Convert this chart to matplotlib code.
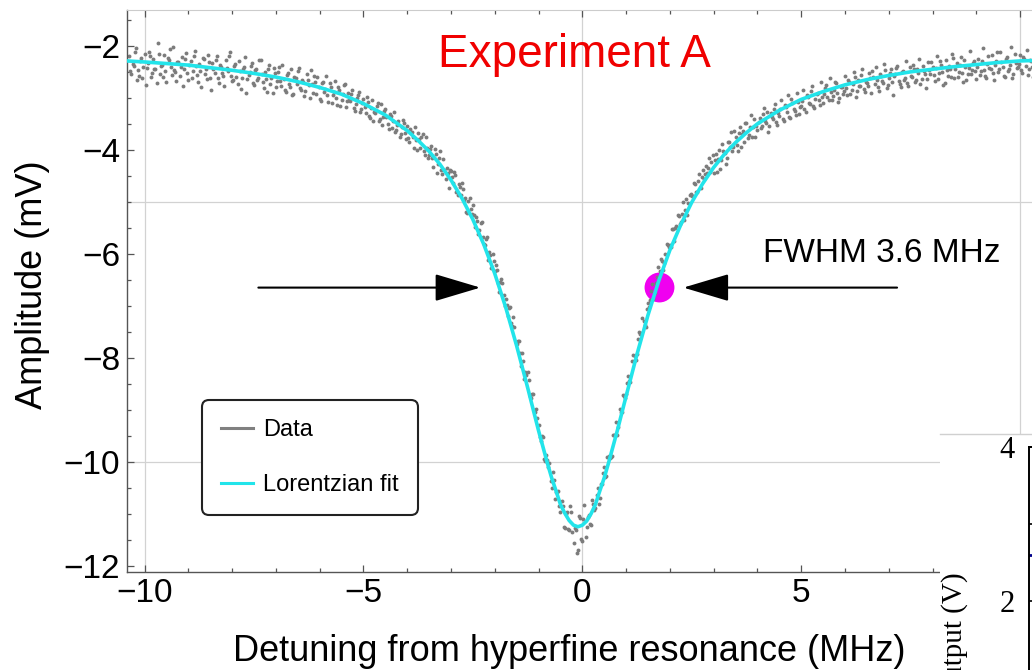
import matplotlib
matplotlib.use("Agg")
import matplotlib.pyplot as plt
from matplotlib.lines import Line2D
from matplotlib.patches import Rectangle
from matplotlib.ticker import MultipleLocator
import numpy as np

plt.rcParams['font.family'] = ['Liberation Sans', 'DejaVu Sans']

# scan 1 sits on the 0.05 grid, scan 2 halfway between
data_step = 0.05
left_start = -10.35
left_mv = [
    -2.20, -2.55, -2.38, -2.05, -2.47, -2.30, -2.62, -2.16, -2.42, -2.11,
    -2.60, -2.25, -2.45, -1.95, -2.54, -2.36, -2.18, -2.70, -2.27, -2.41,
    -2.03, -2.50, -2.32, -2.58, -2.21, -2.45, -2.14, -2.66, -2.29, -2.49,
    -2.10, -2.57, -2.35, -2.80, -2.26, -2.44, -2.18, -2.62, -2.33, -2.53,
    -2.20, -2.71, -2.40, -2.58, -2.27, -2.49, -2.12, -2.68, -2.39, -2.60,
    -2.30, -2.83, -2.45, -2.22, -2.64, -2.51, -2.33, -2.76, -2.44, -2.62,
    -2.28, -2.70, -2.50, -2.88, -2.37, -2.61, -2.42, -2.79, -2.50, -2.68,
    -2.36, -2.85, -2.57, -2.74, -2.44, -2.93, -2.62, -2.48, -2.81, -2.66,
    -2.97, -2.55, -2.76, -2.46, -2.90, -2.70, -2.59, -3.02, -2.71, -2.88,
    -2.58, -3.08, -2.79, -2.95, -2.67, -3.13, -2.84, -3.05, -2.76, -3.18,
    -2.90, -3.07, -2.85, -3.26, -3.00, -2.88, -3.21, -3.02, -3.30, -3.08,
    -3.39, -3.05, -3.27, -3.16, -3.45, -3.12, -3.36, -3.22, -3.50, -3.31,
    -3.58, -3.28, -3.62, -3.45, -3.70, -3.42, -3.68,
]
core_start = -4.0
core_mv = [
    -3.55, -3.84, -3.66, -3.96, -3.81, -3.68, -3.97, -3.69, -4.10, -3.97,
    -4.09, -3.92, -4.33, -4.08, -4.27, -4.03, -4.46, -4.39, -4.34, -4.74,
    -4.40, -4.63, -4.48, -4.87, -4.71, -4.63, -4.96, -5.19, -4.98, -5.14,
    -5.07, -5.48, -5.37, -5.55, -5.39, -5.81, -5.71, -6.11, -6.02, -6.01,
    -6.34, -6.32, -6.73, -6.49, -6.79, -6.86, -7.20, -7.02, -7.38, -7.41,
    -7.74, -7.68, -8.15, -8.07, -8.28, -8.28, -8.74, -8.70, -9.00, -8.99,
    -9.30, -9.61, -9.53, -9.99, -9.96, -10.03, -10.51, -10.36, -10.59, -10.57,
    -10.97, -10.86, -11.27, -10.97, -11.31, -10.97, -11.57, -11.32, -11.70, -11.09,
    -11.52, -10.84, -11.26, -11.02, -11.22, -10.81, -10.88, -10.51, -10.70, -10.42,
    -10.11, -10.28, -9.88, -9.91, -9.49, -9.48, -9.49, -8.98, -9.04, -8.74,
    -8.69, -8.35, -8.47, -7.95, -7.97, -7.92, -7.51, -7.53, -7.29, -7.41,
    -6.94, -6.89, -6.58, -6.75, -6.45, -6.44, -6.10, -6.32, -6.01, -5.83,
    -5.83, -5.53, -5.75, -5.46, -5.28, -5.38, -5.00, -5.15, -5.25, -4.86,
    -4.88, -4.63, -4.82, -4.59, -4.74, -4.38, -4.46, -4.44, -4.15, -4.24,
    -4.44, -4.08, -4.17, -4.36, -3.88, -4.06, -4.15, -3.84, -3.65, -3.95,
    -3.76, -4.02, -3.56, -3.70, -3.85, -3.49, -3.71, -3.33, -3.57, -3.75,
]
right_start = 4.0
right_mv = [
    -3.62, -3.38, -3.55, -3.20, -3.48, -3.66, -3.30, -3.41, -3.12, -3.52,
    -3.35, -3.05, -3.44, -3.18, -2.95, -3.39, -3.10, -3.26, -2.90, -3.32,
    -3.15, -2.85, -3.28, -2.98, -3.12, -2.78, -3.20, -2.93, -3.05, -2.70,
    -3.10, -2.82, -2.98, -2.62, -3.05, -2.85, -2.72, -3.08, -2.80, -2.92,
    -2.58, -2.95, -2.70, -2.85, -2.50, -2.98, -2.66, -2.78, -2.45, -2.88,
    -2.72, -2.52, -2.90, -2.60, -2.40, -2.80, -2.55, -2.68, -2.35, -2.82,
    -2.62, -2.44, -2.95, -2.55, -2.38, -2.74, -2.50, -2.66, -2.30, -2.78,
    -2.58, -2.36, -2.70, -2.45, -2.25, -2.63, -2.48, -2.82, -2.32, -2.55,
    -2.40, -2.68, -2.20, -2.52, -2.36, -2.75, -2.28, -2.58, -2.44, -2.15,
    -2.62, -2.33, -2.50, -2.22, -2.70, -2.40, -2.55, -2.10, -2.46, -2.30,
    -2.64, -2.25, -2.48, -2.05, -2.58, -2.35, -2.42, -2.18, -2.66, -2.30,
    -2.50, -2.12, -2.40, -2.60, -2.22, -2.45, -2.02, -2.55, -2.33, -2.40,
    -2.18, -2.52, -2.26, -2.08, -2.44, -2.30, -2.60, -2.15,
]

left2_start = -10.325
left2_mv = [
    -2.48, -2.35, -2.12, -2.66, -2.58, -2.24, -2.41, -2.75, -2.33, -2.19,
    -2.52, -2.44, -2.71, -2.15, -2.38, -2.60, -2.49, -2.23, -2.07, -2.56,
    -2.46, -2.68, -2.31, -2.40, -2.77, -2.25, -2.52, -2.36, -2.61, -2.19,
    -2.39, -2.70, -2.48, -2.23, -2.55, -2.64, -2.31, -2.85, -2.45, -2.28,
    -2.61, -2.36, -2.52, -2.77, -2.43, -2.20, -2.58, -2.66, -2.34, -2.73,
    -2.49, -2.62, -2.41, -2.90, -2.56, -2.38, -2.71, -2.47, -2.65, -2.27,
    -2.55, -2.82, -2.63, -2.45, -2.74, -2.91, -2.52, -2.68, -2.40, -2.77,
    -2.64, -2.88, -2.52, -2.79, -2.95, -2.60, -2.73, -2.42, -2.84, -2.70,
    -2.86, -2.65, -3.00, -2.74, -2.58, -2.93, -2.80, -3.07, -2.69, -2.83,
    -2.95, -2.72, -3.10, -2.88, -3.01, -2.80, -3.16, -2.92, -2.74, -3.06,
    -3.04, -2.92, -3.20, -3.12, -2.95, -3.28, -3.10, -3.18, -2.99, -3.35,
    -3.20, -3.44, -3.29, -3.10, -3.40, -3.52, -3.25, -3.37, -3.60, -3.34,
    -3.44, -3.66, -3.52, -3.75, -3.57, -3.48, -3.80,
]
core2_start = -3.975
core2_mv = [
    -3.77, -3.59, -3.75, -3.57, -4.00, -3.80, -3.75, -4.02, -3.75, -4.16,
    -3.99, -4.16, -3.98, -4.45, -4.15, -4.39, -4.17, -4.56, -4.44, -4.39,
    -4.53, -4.43, -4.81, -4.66, -4.87, -4.75, -4.93, -5.22, -4.93, -5.24,
    -5.25, -5.29, -5.61, -5.41, -5.67, -5.83, -5.68, -5.97, -6.28, -6.14,
    -6.21, -6.56, -6.55, -6.56, -7.01, -6.99, -7.05, -7.33, -7.22, -7.70,
    -7.67, -7.91, -7.91, -8.40, -8.34, -8.43, -8.78, -8.69, -9.04, -9.15,
    -9.52, -9.50, -9.95, -9.87, -10.10, -10.37, -10.20, -10.72, -10.58, -10.86,
    -10.75, -11.25, -11.01, -11.30, -10.86, -11.36, -11.28, -11.75, -11.05, -11.48,
    -11.11, -11.45, -11.06, -11.19, -10.74, -10.93, -10.64, -10.81, -10.42, -10.22,
    -10.30, -9.90, -9.93, -9.89, -9.49, -9.24, -9.34, -9.05, -8.71, -8.77,
    -8.48, -8.45, -8.06, -8.07, -8.05, -7.63, -7.55, -7.24, -7.37, -7.07,
    -7.03, -6.71, -6.86, -6.57, -6.25, -6.34, -6.13, -6.17, -5.81, -5.86,
    -5.87, -5.53, -5.51, -5.26, -5.42, -5.24, -5.35, -4.94, -5.02, -4.84,
    -4.88, -4.65, -4.81, -4.46, -4.53, -4.56, -4.32, -4.35, -4.43, -4.10,
    -4.19, -4.42, -4.00, -4.20, -4.03, -4.28, -3.84, -3.95, -4.03, -3.64,
    -3.90, -3.67, -3.95, -3.64, -3.49, -3.77, -3.57, -3.76, -3.40, -3.54,
]
right2_start = 4.025
right2_mv = [
    -3.46, -3.58, -3.31, -3.44, -3.27, -3.54, -3.36, -3.22, -3.47, -3.30,
    -3.22, -3.40, -3.14, -3.28, -3.36, -3.02, -3.21, -3.33, -3.08, -3.17,
    -3.06, -3.22, -2.94, -3.10, -2.87, -3.16, -3.02, -2.90, -3.14, -2.98,
    -2.93, -2.76, -3.04, -2.88, -2.97, -2.70, -2.90, -3.01, -2.79, -2.86,
    -2.81, -2.66, -2.92, -2.74, -2.60, -2.87, -2.78, -2.57, -2.83, -2.69,
    -2.78, -2.61, -2.49, -2.74, -2.66, -2.86, -2.58, -2.71, -2.47, -2.76,
    -2.53, -2.70, -2.58, -2.42, -2.68, -2.80, -2.49, -2.61, -2.72, -2.40,
    -2.59, -2.44, -2.66, -2.52, -2.73, -2.38, -2.55, -2.64, -2.47, -2.31,
    -2.57, -2.42, -2.63, -2.30, -2.50, -2.71, -2.46, -2.38, -2.59, -2.24,
    -2.45, -2.60, -2.37, -2.52, -2.28, -2.66, -2.43, -2.55, -2.33, -2.49,
    -2.40, -2.57, -2.29, -2.46, -2.62, -2.20, -2.44, -2.53, -2.36, -2.12,
    -2.44, -2.31, -2.58, -2.26, -2.49, -2.37, -2.62, -2.16, -2.42, -2.35,
    -2.47, -2.22, -2.39, -2.56, -2.28, -2.41, -2.12,
]

# Lorentzian fit curve
fit_x = [-10.4, -10, -9.5, -9, -8.5, -8, -7.5, -7, -6.5, -6, -5.5, -5, -4.5, -4,
         -3.75, -3.5, -3.25, -3, -2.75, -2.5, -2.25, -2, -1.75, -1.5, -1.25,
         -1.0, -0.9, -0.8, -0.7, -0.6, -0.5, -0.4, -0.3, -0.2, -0.1, 0.0, 0.1,
         0.2, 0.3, 0.4, 0.5, 0.6, 0.7, 0.8,
         1.0, 1.25, 1.5, 1.75, 2, 2.25, 2.5, 2.75, 3, 3.25, 3.5, 3.75, 4,
         4.5, 5, 5.5, 6, 6.5, 7, 7.5, 8, 8.5, 9, 9.5, 10, 10.4]
fit_mv = [-2.29, -2.31, -2.34, -2.37, -2.42, -2.47, -2.53, -2.60, -2.69, -2.80,
          -2.93, -3.11, -3.33, -3.63,
          -3.82, -4.03, -4.28, -4.58, -4.93, -5.34, -5.82, -6.38, -7.03, -7.77, -8.57,
          -9.40, -9.71, -10.02, -10.31, -10.56, -10.82, -10.99, -11.13, -11.22,
          -11.25, -11.22, -11.14, -11.00, -10.82, -10.56, -10.31, -10.02, -9.71, -9.40,
          -8.74, -7.93, -7.18, -6.51, -5.93, -5.44, -5.01, -4.65, -4.34, -4.08,
          -3.86, -3.67, -3.50,
          -3.24, -3.03, -2.88, -2.75, -2.65, -2.57, -2.50, -2.45, -2.40, -2.36,
          -2.32, -2.29, -2.28]

fwhm_x, fwhm_mv = 1.76, -6.63
arrow_mv = -6.65
left_arrow = (-7.40, -2.33)
right_arrow = (7.19, 2.31)
legend_labels = ["Data", "Lorentzian fit"]
x_ticks = [-10, -5, 0, 5, 10]
x_tick_labels = ["\u221210", "\u22125", "0", "5", ""]

data_color = '#7c7c7c'
fit_color = '#22e4ea'


def grid_from(start, values):
    return np.round(start + data_step * np.arange(len(values)), 3)


pieces = [(left_start, left_mv), (core_start, core_mv), (right_start, right_mv),
          (left2_start, left2_mv), (core2_start, core2_mv), (right2_start, right2_mv)]
data_x = np.concatenate([grid_from(s, v) for s, v in pieces])
data_mv = np.concatenate([np.array(v) for s, v in pieces])

fig = plt.figure(figsize=(10.32, 6.70), dpi=100)
ax = fig.add_axes([0.1231, 0.1463, 0.8823, 0.8388])
ax.set_xlim(-10.4, 10.4)
ax.set_ylim(-12.12, -1.31)

for gx in [-10, 0, 10]:
    ax.axvline(gx, color='#d2d2d2', lw=0.9, zorder=0)
for gy in [-5, -10]:
    ax.axhline(gy, color='#d2d2d2', lw=0.9, zorder=0)

ax.plot([fwhm_x], [fwhm_mv], 'o', ms=21.5, color='#f000f0', mew=0, zorder=1)
ax.plot(data_x, data_mv, 'o', ms=2.8, color=data_color, mew=0, zorder=2)
ax.plot(fit_x, fit_mv, color=fit_color, lw=2.6, zorder=3)

arrow_props = dict(arrowstyle='-|>,head_length=1.44,head_width=0.43',
                   mutation_scale=20, lw=1.5, color='black', shrinkA=0, shrinkB=0)
ax.annotate('', xy=(left_arrow[1], arrow_mv), xytext=(left_arrow[0], arrow_mv),
            arrowprops=arrow_props, zorder=4)
ax.annotate('', xy=(right_arrow[1], arrow_mv), xytext=(right_arrow[0], arrow_mv),
            arrowprops=arrow_props, zorder=4)
ax.text(4.13, -6.15, "FWHM 3.6 MHz", fontsize=24, va='baseline', ha='left')

# Mathematica style frame
ax.set_xticks(x_ticks)
ax.set_xticklabels(x_tick_labels)
ax.xaxis.set_minor_locator(MultipleLocator(1))
ax.set_yticks([-12, -10, -8, -6, -4, -2])
ax.yaxis.set_minor_locator(MultipleLocator(0.5))
ax.tick_params(which='both', direction='in', top=True, right=False,
               color='#555555', width=0.9, labelsize=24)
ax.tick_params(which='major', length=5)
ax.tick_params(which='minor', length=3)
ax.tick_params(axis='x', pad=4)
ax.tick_params(axis='y', pad=5)
for t in ax.xaxis.get_major_ticks() + ax.xaxis.get_minor_ticks():
    t.tick2line.set_color('#aaaaaa')
ax.spines['right'].set_visible(False)
ax.spines['top'].set_color('#cccccc')
for s in ['left', 'bottom']:
    ax.spines[s].set_color('#555555')
    ax.spines[s].set_linewidth(1.0)

handles = [Line2D([], [], color='#808080', lw=2.2),
           Line2D([], [], color=fit_color, lw=2.2)]
leg = ax.legend(handles, legend_labels, loc='upper left',
                bbox_to_anchor=(202 / 1032, (670 - 400) / 670),
                bbox_transform=fig.transFigure, fontsize=17, frameon=True,
                fancybox=True, edgecolor='#222222', framealpha=1,
                borderpad=0.8, labelspacing=1.4, handlelength=1.35,
                handletextpad=0.45, borderaxespad=0)
leg.get_frame().set_linewidth(1.5)
leg.get_frame().set_boxstyle('round,pad=0,rounding_size=0.3')
leg.set_zorder(5)

fig.text(574 / 1032, (670 - 67) / 670, "Experiment A", color='#f00000',
         fontsize=33, ha='center', va='baseline')
fig.text(0.552, (670 - 661) / 670, "Detuning from hyperfine resonance (MHz)",
         fontsize=26, ha='center', va='baseline')
fig.text(33 / 1032, (670 - 285) / 670, "Amplitude (mV)", fontsize=26,
         rotation=90, ha='center', va='center')

# piece of a neighbouring figure overlapping the lower right corner
fig.add_artist(Rectangle((940 / 1032, 0), 92 / 1032, (670 - 434) / 670,
                         transform=fig.transFigure, facecolor='white',
                         edgecolor='none', zorder=1))
fig.add_artist(Line2D([940 / 1032, 1], [(670 - 434) / 670] * 2,
                      transform=fig.transFigure, color='#d0d0d0', lw=1, zorder=1.5))
ax2 = fig.add_axes([1029 / 1032, -0.2, 0.3, (670 - 447) / 670 + 0.2])
ax2.set_zorder(2)
ax2.set_xlim(0, 10)
ax2.set_ylim(-0.64, 4)
ax2.plot([0, 3], [2.6, 2.6], color='#00008b', lw=2)
ax2.set_xticks([])
ax2.set_yticks([0, 2, 4])
ax2.yaxis.set_minor_locator(MultipleLocator(1))
ax2.tick_params(axis='y', which='both', direction='in', length=5, width=1.2,
                labelsize=22, pad=10)
for lab in ax2.get_yticklabels():
    lab.set_family('Liberation Serif')
for s in ax2.spines.values():
    s.set_linewidth(1.4)
fig.text(955 / 1032, (670 - 637) / 670, "Output (V)", rotation=90,
         ha='center', va='center', family='Liberation Serif', fontsize=21)

fig.savefig("out.png", dpi=100)
